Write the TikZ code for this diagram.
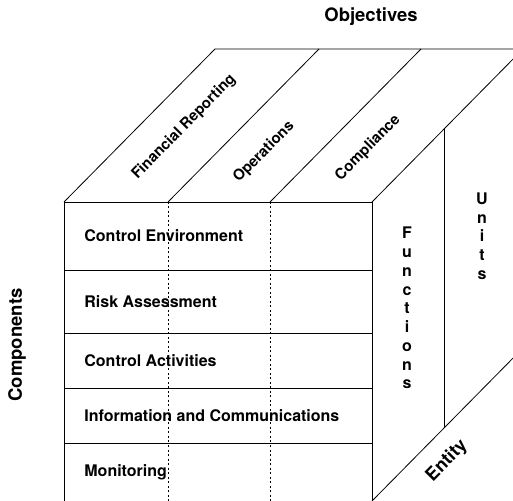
\documentclass[tikz,border=0pt]{standalone}
\usepackage{fontspec}
\setmainfont{TeX Gyre Heros}

\tikzset{
	rowlabel/.style={anchor=west, inner sep=0pt, font=\bfseries\fontsize{16}{19}\selectfont},
	slantlabel/.style={rotate=45.4, inner sep=0pt, font=\bfseries\fontsize{15}{18}\selectfont},
	axislabel/.style={inner sep=0pt, font=\bfseries\fontsize{18.5}{22}\selectfont},
	stacklabel/.style={inner sep=0pt, align=center, font=\bfseries\fontsize{16}{18.75}\selectfont},
	dotline/.style={line width=0.8pt, dash pattern=on 2pt off 2.5pt},
}

\begin{document}
\begin{tikzpicture}[x=1pt, y=1pt, line width=0.8pt]
			\def\fl{64}
			\def\fr{372}
			\def\ft{298}
			\def\fb{-1}
			\def\dx{151}
			\def\dy{153}

			\useasboundingbox (0,0) rectangle (513,500);
			\clip (0,0) rectangle (513,500);

			% front face
			\draw[line width=0.9pt] (\fl,\fb) rectangle (\fr,\ft);
			\foreach \y in {230,167,112,57}
				\draw (\fl,\y) -- (\fr,\y);
			\foreach \x in {168,270}
				\draw[dotline] (\x,\ft) -- (\x,\fb);

			% top face
			\draw (\fl,\ft) -- ++(\dx,\dy) -- ++(\fr-\fl,0) -- (\fr,\ft);
			\foreach \x in {168,270}
				\draw (\x,\ft) -- ++(\dx,\dy);

			% right face
			\draw (\fr,\fb) -- ++(\dx,\dy) -- ++(0,\ft-\fb);
			\draw (\fr+0.48*\dx,\fb+0.48*\dy) -- ++(0,\ft-\fb);

			\node[rowlabel] (env)  at (84, 264) {Control Environment};
			\node[rowlabel] (risk) at (84, 198.5) {Risk Assessment};
			\node[rowlabel] (act)  at (84, 139.5) {Control Activities};
			\node[rowlabel] (info) at (84, 84.5) {Information and Communications};
			\node[rowlabel] (mon)  at (84, 28) {Monitoring};

			\node[slantlabel] (fin) at (184, 373) {Financial Reporting};
			\node[slantlabel] (ops) at (264, 348) {Operations};
			\node[slantlabel] (comp) at (368, 352) {Compliance};

			\node[stacklabel] (func)  at (407, 192) {F\\u\\n\\c\\t\\i\\o\\n\\s};
			\node[stacklabel] (units) at (482, 264) {U\\n\\i\\t\\s};

			\node[axislabel] (obj) at (371, 483) {Objectives};
			\node[axislabel, rotate=90] (comps) at (17, 155) {Components};
			\node[axislabel, rotate=45.4, font=\bfseries\fontsize{18}{22}\selectfont] (ent) at (447, 39) {Entity};

		\end{tikzpicture}
\end{document}
